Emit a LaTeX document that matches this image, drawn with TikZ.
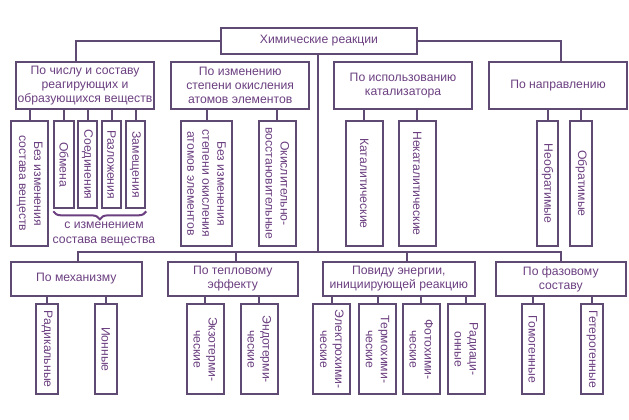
\documentclass[tikz,border=0pt]{standalone}
\usepackage{fontspec}
\setmainfont{Liberation Sans}
\usetikzlibrary{decorations.pathreplacing}
\definecolor{linecol}{RGB}{95,74,115}
\definecolor{textcol}{RGB}{107,63,128}

\begin{document}
\begin{tikzpicture}[
    x=1pt, y=-1pt,
    group/.style={rectangle, draw=linecol, line width=2pt, text=textcol, align=center, inner sep=0.5pt, font=\fontsize{12.2}{14}\selectfont},
    leaf/.style={rectangle, draw=linecol, line width=2pt, text=textcol, align=center, inner sep=0.5pt, rotate=-90, font=\fontsize{12.2}{15}\selectfont},
    link/.style={draw=linecol, line width=2pt}
]
\useasboundingbox (0,0) rectangle (629,420);

% Корень
\node[group, minimum width=196pt, minimum height=26pt] (root) at (319,41) {Химические реакции};

% Признаки, верхний ряд
\node[group, minimum width=138.6pt, minimum height=47pt] (sz) at (85,85.5) {По числу и составу\\реагирующих и\\образующихся веществ};
\node[group, minimum width=138.3pt, minimum height=47pt] (ok) at (240.2,85.5) {По изменению\\степени окисления\\атомов элементов};
\node[group, minimum width=138.6pt, minimum height=47pt] (kat) at (403,85.5) {По использованию\\катализатора};
\node[group, minimum width=138.6pt, minimum height=47pt] (napr) at (558,85.5) {По направлению};

% Признаки, нижний ряд
\node[group, minimum width=130.7pt, minimum height=34pt] (meh) at (76.3,279) {По механизму};
\node[group, minimum width=130.3pt, minimum height=34pt] (tep) at (232.8,279) {По тепловому\\эффекту};
\node[group, minimum width=152.3pt, minimum height=34pt] (en) at (398.8,279) {Повиду энергии,\\инициирующей реакцию};
\node[group, minimum width=130.3pt, minimum height=34pt] (faz) at (560.8,279) {По фазовому\\составу};

% Виды, верхний ряд
\node[leaf, minimum width=125pt, minimum height=37.3pt] (bezsost) at (29.7,183.5) {Без изменения\\состава веществ};
\node[leaf, minimum width=87.3pt, minimum height=19.4pt] (obm) at (64,164.7) {Обмена};
\node[leaf, minimum width=87.3pt, minimum height=19.6pt] (soed) at (87.5,164.7) {Соединения};
\node[leaf, minimum width=87.3pt, minimum height=19.6pt] (razl) at (111.5,164.7) {Разложения};
\node[leaf, minimum width=87.3pt, minimum height=19.6pt] (zam) at (135.5,164.7) {Замещения};
\node[leaf, minimum width=125pt, minimum height=51.6pt] (bezok) at (206.5,183.5) {Без изменения\\степени окисления\\атомов элементов};
\node[leaf, minimum width=125pt, minimum height=37.3pt] (ovr) at (277.3,183.5) {Окислительно-\\восстановительные};
\node[leaf, minimum width=125pt, minimum height=37.3pt] (katl) at (364.3,183.5) {Каталитические};
\node[leaf, minimum width=125pt, minimum height=37.3pt] (nekat) at (417.3,183.5) {Некаталитические};
\node[leaf, minimum width=125pt, minimum height=21.6pt] (neobr) at (547.5,183.5) {Необратимые};
\node[leaf, minimum width=125pt, minimum height=22pt] (obr) at (581.3,183.5) {Обратимые};

% Подпись под скобкой
\node[text=textcol, align=center, font=\fontsize{12.2}{14.3}\selectfont] (smena) at (104,234) {с изменением\\состава вещества};

% Виды, нижний ряд
\node[leaf, minimum width=90pt, minimum height=22.6pt] (rad) at (47,349.3) {Радикальные};
\node[leaf, minimum width=90pt, minimum height=22.3pt] (ion) at (105.8,349.3) {Ионные};
\node[leaf, minimum width=90pt, minimum height=37.3pt] (ekzo) at (205.3,349.3) {Экзотерми-\\ческие};
\node[leaf, minimum width=90pt, minimum height=37.3pt] (endo) at (259.3,349.3) {Эндотерми-\\ческие};
\node[leaf, minimum width=90pt, minimum height=37pt] (elch) at (331.8,349.3) {Электрохими-\\ческие};
\node[leaf, minimum width=90pt, minimum height=37pt] (terch) at (377.5,349.3) {Термохими-\\ческие};
\node[leaf, minimum width=90pt, minimum height=37.3pt] (fotch) at (421.3,349.3) {Фотохими-\\ческие};
\node[leaf, minimum width=90pt, minimum height=37.3pt] (radc) at (466.3,349.3) {Радиаци-\\онные};
\node[leaf, minimum width=90pt, minimum height=22.3pt] (gomo) at (532.8,349.3) {Гомогенные};
\node[leaf, minimum width=90pt, minimum height=22.6pt] (geter) at (592,349.3) {Гетерогенные};

% Связи от корня
\coordinate (hub) at (318,251.7);
\draw[link] (root.west) -| ([xshift=-9pt]sz.north);
\draw[link] (root.east) -| ([xshift=2.7pt]napr.north);
\draw[link] (root.south -| hub) -- (hub);
\draw[link] ([xshift=1.7pt]meh.north) |- ([xshift=-0.1pt]faz.north |- hub) -- ([xshift=-0.1pt]faz.north);
\draw[link] ([xshift=3.2pt]tep.north) -- ([xshift=3.2pt]tep.north |- hub);
\draw[link] ([xshift=7.9pt]en.north) -- ([xshift=7.9pt]en.north |- hub);

% Связи верхнего ряда
\draw[link] (sz.south -| bezsost.west) -- (bezsost.west);
\draw[link] (sz.south -| obm.west) -- (obm.west);
\draw[link] (sz.south -| soed.west) -- (soed.west);
\draw[link] (sz.south -| razl.west) -- (razl.west);
\draw[link] (sz.south -| zam.west) -- (zam.west);
\draw[link] (ok.south -| bezok.west) -- (bezok.west);
\draw[link] (ok.south -| ovr.west) -- (ovr.west);
\draw[link] (kat.south -| katl.west) -- (katl.west);
\draw[link] (kat.south -| nekat.west) -- (nekat.west);
\draw[link] (napr.south -| neobr.west) -- (neobr.west);
\draw[link] (napr.south -| obr.west) -- (obr.west);

% Скобка
\draw[draw=textcol, line width=2pt, decorate, decoration={brace, mirror, amplitude=8pt}] ([yshift=-2pt]obm.south east) -- ([yshift=-2pt]zam.north east);

% Связи нижнего ряда
\draw[link] (meh.south -| rad.west) -- (rad.west);
\draw[link] (meh.south -| ion.west) -- (ion.west);
\draw[link] (tep.south -| ekzo.west) -- (ekzo.west);
\draw[link] (tep.south -| endo.west) -- (endo.west);
\draw[link] (en.south -| elch.west) -- (elch.west);
\draw[link] (en.south -| terch.west) -- (terch.west);
\draw[link] (en.south -| fotch.west) -- (fotch.west);
\draw[link] (en.south -| radc.west) -- (radc.west);
\draw[link] (faz.south -| gomo.west) -- (gomo.west);
\draw[link] (faz.south -| geter.west) -- (geter.west);
\end{tikzpicture}
\end{document}
